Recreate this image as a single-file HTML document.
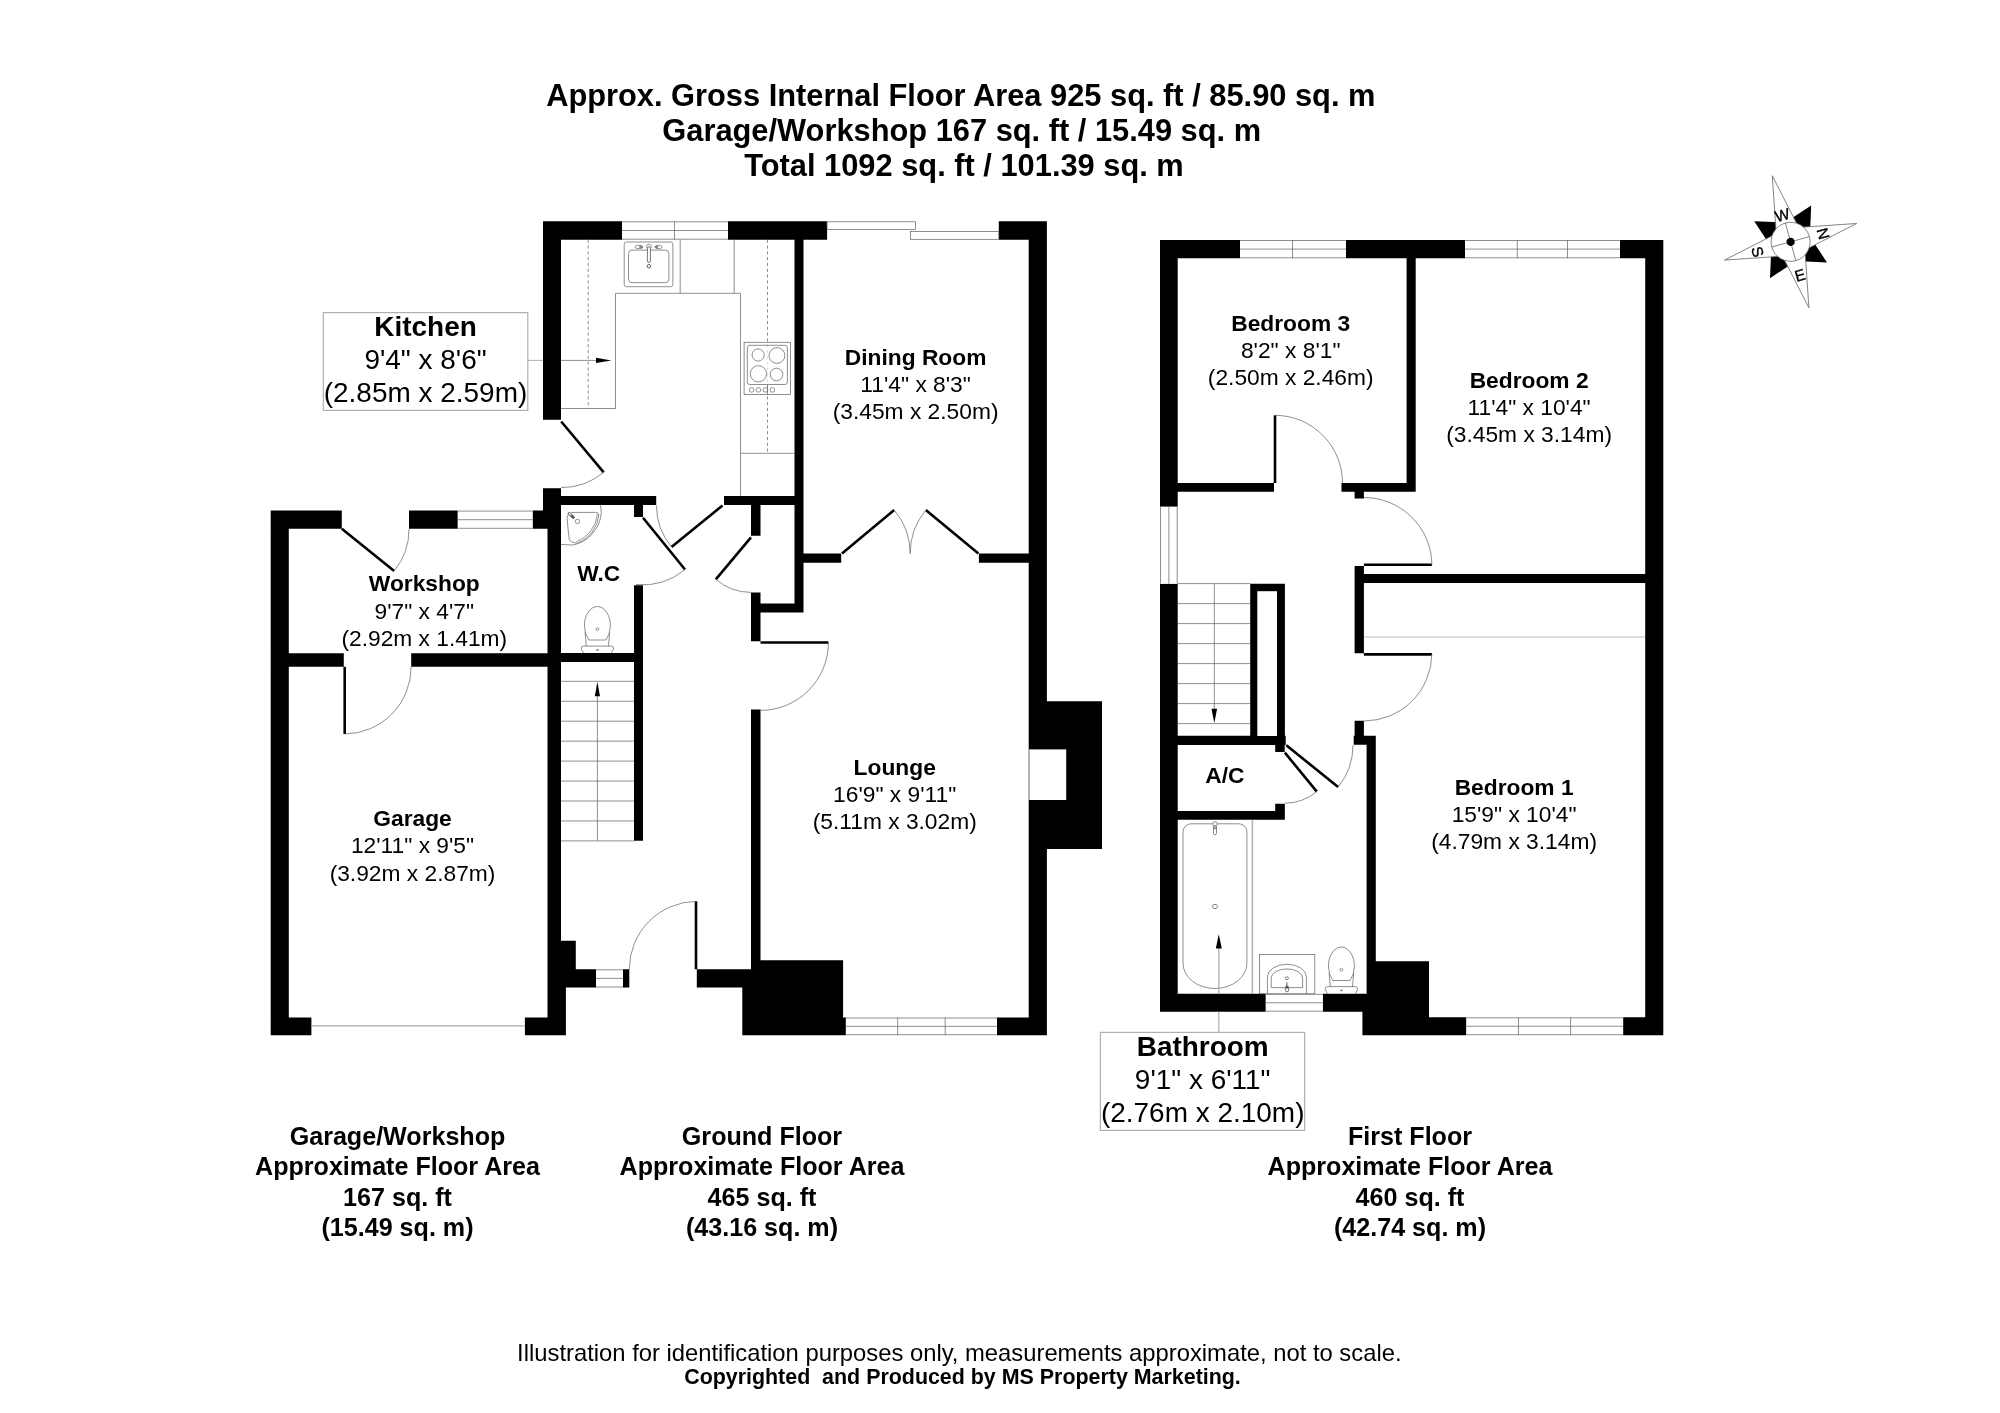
<!DOCTYPE html>
<html><head><meta charset="utf-8"><title>Floor plan</title>
<style>
html,body{margin:0;padding:0;background:#fff;}
body{width:2000px;height:1413px;overflow:hidden;}
svg{display:block;will-change:transform;}
svg text{font-family:"Liberation Sans",sans-serif;fill:#000;}
</style></head><body>
<svg width="2000" height="1413" viewBox="0 0 2000 1413">
<rect width="2000" height="1413" fill="#fff"/>
<path fill="#000" d="M543.00,221.30H561.00V419.70H543.00Z M543.00,488.20H561.00V511.00H543.00Z M547.50,505.00H561.00V1035.20H547.50Z M543.00,221.30H622.00V239.70H543.00Z M728.00,221.30H827.10V239.70H728.00Z M998.80,221.30H1046.90V239.70H998.80Z M1028.70,221.30H1046.90V1035.20H1028.70Z M794.50,239.70H803.50V612.60H794.50Z M561.00,496.00H656.20V505.00H561.00Z M724.00,496.00H794.50V505.00H724.00Z M634.00,505.00H643.00V517.00H634.00Z M634.00,585.20H643.00V840.80H634.00Z M561.00,653.00H643.00V662.00H561.00Z M751.00,505.00H760.50V535.75H751.00Z M751.00,592.40H760.50V641.30H751.00Z M751.00,603.40H803.50V612.60H751.00Z M751.00,709.40H760.50V1035.20H751.00Z M803.50,553.40H841.20V562.75H803.50Z M978.90,553.40H1028.70V562.75H978.90Z M1028.70,701.20H1102.00V849.00H1028.70Z M997.00,1017.50H1046.90V1035.20H997.00Z M760.50,960.20H843.10V1035.20H760.50Z M742.30,987.30H760.50V1035.20H742.30Z M843.00,1017.40H845.90V1035.20H843.00Z M561.00,969.30H596.00V987.50H561.00Z M622.90,969.30H629.30V987.50H622.90Z M696.80,969.30H751.20V987.50H696.80Z M561.00,940.75H575.80V969.30H561.00Z M547.50,987.50H565.90V1035.20H547.50Z M524.90,1017.40H565.90V1035.20H524.90Z M270.70,510.60H288.80V1035.30H270.70Z M270.70,510.60H341.80V528.80H270.70Z M409.00,510.60H457.80V528.80H409.00Z M532.60,510.60H547.60V528.80H532.60Z M288.80,653.30H343.80V666.80H288.80Z M411.20,653.30H547.60V666.80H411.20Z M270.70,1017.40H311.40V1035.30H270.70Z M1160.00,240.00H1177.70V506.80H1160.00Z M1160.00,583.70H1177.70V1011.70H1160.00Z M1160.00,240.00H1240.00V258.25H1160.00Z M1346.00,240.00H1465.00V258.25H1346.00Z M1620.00,240.00H1663.30V258.25H1620.00Z M1645.20,240.00H1663.30V1035.20H1645.20Z M1406.60,258.00H1415.70V491.80H1406.60Z M1177.70,483.00H1274.00V491.80H1177.70Z M1341.50,483.00H1415.70V491.80H1341.50Z M1354.60,491.80H1363.90V498.50H1354.60Z M1354.60,566.00H1363.90V653.30H1354.60Z M1363.90,573.90H1645.20V583.00H1363.90Z M1354.60,720.80H1363.90V736.00H1354.60Z M1353.70,735.70H1375.80V744.80H1353.70Z M1366.60,744.80H1375.80V1011.70H1366.60Z M1250.20,583.70H1284.90V736.00H1250.20Z M1177.70,735.80H1285.70V744.90H1177.70Z M1275.20,744.90H1284.70V752.00H1275.20Z M1177.70,811.00H1284.85V819.80H1177.70Z M1275.20,803.80H1284.85V819.80H1275.20Z M1160.00,993.85H1265.80V1011.70H1160.00Z M1322.75,993.85H1375.80V1011.70H1322.75Z M1375.80,961.20H1429.00V1035.20H1375.80Z M1362.40,1011.70H1375.80V1035.20H1362.40Z M1429.00,1017.30H1466.40V1035.20H1429.00Z M1623.10,1017.30H1663.30V1035.20H1623.10Z"/>
<rect x="1028.70" y="749.40" width="37.50" height="50.60" fill="#fff"/>
<line x1="1029.20" y1="749.40" x2="1029.20" y2="800.00" stroke="#6a6a6a" stroke-width="0.75" />
<rect x="1257.30" y="591.20" width="19.70" height="144.80" fill="#fff"/>
<rect x="622.00" y="221.30" width="106.00" height="18.40" fill="#fff"/>
<line x1="622.00" y1="221.80" x2="728.00" y2="221.80" stroke="#6a6a6a" stroke-width="0.75" />
<line x1="622.00" y1="230.50" x2="728.00" y2="230.50" stroke="#6a6a6a" stroke-width="0.75" />
<line x1="622.00" y1="239.20" x2="728.00" y2="239.20" stroke="#6a6a6a" stroke-width="0.75" />
<line x1="674.50" y1="221.30" x2="674.50" y2="239.70" stroke="#6a6a6a" stroke-width="0.75" />
<rect x="845.90" y="1017.50" width="151.10" height="17.70" fill="#fff"/>
<line x1="845.90" y1="1018.00" x2="997.00" y2="1018.00" stroke="#6a6a6a" stroke-width="0.75" />
<line x1="845.90" y1="1026.35" x2="997.00" y2="1026.35" stroke="#6a6a6a" stroke-width="0.75" />
<line x1="845.90" y1="1034.70" x2="997.00" y2="1034.70" stroke="#6a6a6a" stroke-width="0.75" />
<line x1="897.70" y1="1017.50" x2="897.70" y2="1035.20" stroke="#6a6a6a" stroke-width="0.75" />
<line x1="945.20" y1="1017.50" x2="945.20" y2="1035.20" stroke="#6a6a6a" stroke-width="0.75" />
<rect x="596.00" y="969.30" width="26.90" height="18.20" fill="#fff"/>
<line x1="596.00" y1="969.80" x2="622.90" y2="969.80" stroke="#6a6a6a" stroke-width="0.75" />
<line x1="596.00" y1="978.40" x2="622.90" y2="978.40" stroke="#6a6a6a" stroke-width="0.75" />
<line x1="596.00" y1="987.00" x2="622.90" y2="987.00" stroke="#6a6a6a" stroke-width="0.75" />
<rect x="457.80" y="510.60" width="74.80" height="18.20" fill="#fff"/>
<line x1="457.80" y1="511.10" x2="532.60" y2="511.10" stroke="#6a6a6a" stroke-width="0.75" />
<line x1="457.80" y1="519.70" x2="532.60" y2="519.70" stroke="#6a6a6a" stroke-width="0.75" />
<line x1="457.80" y1="528.30" x2="532.60" y2="528.30" stroke="#6a6a6a" stroke-width="0.75" />
<rect x="1240.00" y="240.00" width="106.00" height="18.25" fill="#fff"/>
<line x1="1240.00" y1="240.50" x2="1346.00" y2="240.50" stroke="#6a6a6a" stroke-width="0.75" />
<line x1="1240.00" y1="249.12" x2="1346.00" y2="249.12" stroke="#6a6a6a" stroke-width="0.75" />
<line x1="1240.00" y1="257.75" x2="1346.00" y2="257.75" stroke="#6a6a6a" stroke-width="0.75" />
<line x1="1292.50" y1="240.00" x2="1292.50" y2="258.25" stroke="#6a6a6a" stroke-width="0.75" />
<rect x="1465.00" y="240.00" width="155.00" height="18.25" fill="#fff"/>
<line x1="1465.00" y1="240.50" x2="1620.00" y2="240.50" stroke="#6a6a6a" stroke-width="0.75" />
<line x1="1465.00" y1="249.12" x2="1620.00" y2="249.12" stroke="#6a6a6a" stroke-width="0.75" />
<line x1="1465.00" y1="257.75" x2="1620.00" y2="257.75" stroke="#6a6a6a" stroke-width="0.75" />
<line x1="1517.30" y1="240.00" x2="1517.30" y2="258.25" stroke="#6a6a6a" stroke-width="0.75" />
<line x1="1567.50" y1="240.00" x2="1567.50" y2="258.25" stroke="#6a6a6a" stroke-width="0.75" />
<rect x="1466.40" y="1017.30" width="156.70" height="17.90" fill="#fff"/>
<line x1="1466.40" y1="1017.80" x2="1623.10" y2="1017.80" stroke="#6a6a6a" stroke-width="0.75" />
<line x1="1466.40" y1="1026.25" x2="1623.10" y2="1026.25" stroke="#6a6a6a" stroke-width="0.75" />
<line x1="1466.40" y1="1034.70" x2="1623.10" y2="1034.70" stroke="#6a6a6a" stroke-width="0.75" />
<line x1="1518.50" y1="1017.30" x2="1518.50" y2="1035.20" stroke="#6a6a6a" stroke-width="0.75" />
<line x1="1570.60" y1="1017.30" x2="1570.60" y2="1035.20" stroke="#6a6a6a" stroke-width="0.75" />
<rect x="1265.80" y="993.85" width="56.95" height="17.85" fill="#fff"/>
<line x1="1265.80" y1="994.35" x2="1322.75" y2="994.35" stroke="#6a6a6a" stroke-width="0.75" />
<line x1="1265.80" y1="1002.78" x2="1322.75" y2="1002.78" stroke="#6a6a6a" stroke-width="0.75" />
<line x1="1265.80" y1="1011.20" x2="1322.75" y2="1011.20" stroke="#6a6a6a" stroke-width="0.75" />
<rect x="1160.00" y="506.80" width="17.70" height="76.90" fill="#fff"/>
<line x1="1160.50" y1="506.80" x2="1160.50" y2="583.70" stroke="#6a6a6a" stroke-width="0.75" />
<line x1="1168.85" y1="506.80" x2="1168.85" y2="583.70" stroke="#6a6a6a" stroke-width="0.75" />
<line x1="1177.20" y1="506.80" x2="1177.20" y2="583.70" stroke="#6a6a6a" stroke-width="0.75" />
<rect x="827.1" y="221.8" width="88.4" height="7.8" fill="#fff" stroke="#6a6a6a" stroke-width="0.75"/>
<rect x="910.4" y="231.5" width="88.4" height="7.8" fill="#fff" stroke="#6a6a6a" stroke-width="0.75"/>
<line x1="311.40" y1="1025.90" x2="525.00" y2="1025.90" stroke="#aaa" stroke-width="1.2" />
<line x1="561.20" y1="421.50" x2="603.70" y2="472.30" stroke="#000" stroke-width="2.6" />
<path d="M603.70,472.30 A66.23,66.23 0 0 1 561.20,487.60" stroke="#6a6a6a" stroke-width="0.75" fill="none" />
<line x1="643.00" y1="517.70" x2="685.00" y2="569.50" stroke="#000" stroke-width="2.6" />
<path d="M685.00,569.50 A66.69,66.69 0 0 1 636.00,584.60" stroke="#6a6a6a" stroke-width="0.75" fill="none" />
<line x1="722.50" y1="505.50" x2="671.50" y2="547.00" stroke="#000" stroke-width="2.6" />
<path d="M671.50,547.00 A65.75,65.75 0 0 1 656.40,505.50" stroke="#6a6a6a" stroke-width="0.75" fill="none" />
<line x1="751.00" y1="537.30" x2="715.80" y2="579.30" stroke="#000" stroke-width="2.6" />
<path d="M715.80,579.30 A54.80,54.80 0 0 0 751.00,592.40" stroke="#6a6a6a" stroke-width="0.75" fill="none" />
<line x1="760.50" y1="642.50" x2="828.40" y2="642.50" stroke="#000" stroke-width="2.6" />
<path d="M828.40,642.50 A67.90,67.90 0 0 1 760.50,710.40" stroke="#6a6a6a" stroke-width="0.75" fill="none" />
<line x1="696.00" y1="969.30" x2="696.00" y2="901.30" stroke="#000" stroke-width="2.6" />
<path d="M696.00,901.30 A68.00,68.00 0 0 0 629.30,969.30" stroke="#6a6a6a" stroke-width="0.75" fill="none" />
<line x1="842.00" y1="553.60" x2="894.20" y2="510.00" stroke="#000" stroke-width="2.6" />
<path d="M894.20,510.00 A68.01,68.01 0 0 1 910.20,553.60" stroke="#6a6a6a" stroke-width="0.75" fill="none" />
<line x1="978.40" y1="553.60" x2="925.80" y2="510.00" stroke="#000" stroke-width="2.6" />
<path d="M925.80,510.00 A68.32,68.32 0 0 0 910.20,553.60" stroke="#6a6a6a" stroke-width="0.75" fill="none" />
<line x1="341.80" y1="528.80" x2="394.20" y2="571.00" stroke="#000" stroke-width="2.6" />
<path d="M394.20,571.00 A67.28,67.28 0 0 0 409.10,528.80" stroke="#6a6a6a" stroke-width="0.75" fill="none" />
<line x1="344.70" y1="666.80" x2="344.70" y2="734.00" stroke="#000" stroke-width="2.6" />
<path d="M344.70,734.00 A67.20,67.20 0 0 0 411.20,666.80" stroke="#6a6a6a" stroke-width="0.75" fill="none" />
<line x1="1275.00" y1="483.00" x2="1275.00" y2="415.30" stroke="#000" stroke-width="2.6" />
<path d="M1275.00,415.30 A67.70,67.70 0 0 1 1342.50,483.00" stroke="#6a6a6a" stroke-width="0.75" fill="none" />
<line x1="1363.90" y1="564.80" x2="1431.90" y2="564.80" stroke="#000" stroke-width="2.6" />
<path d="M1431.90,564.80 A68.00,68.00 0 0 0 1363.90,497.50" stroke="#6a6a6a" stroke-width="0.75" fill="none" />
<line x1="1363.90" y1="654.40" x2="1431.90" y2="654.40" stroke="#000" stroke-width="2.6" />
<path d="M1431.90,654.40 A68.00,68.00 0 0 1 1363.90,721.00" stroke="#6a6a6a" stroke-width="0.75" fill="none" />
<line x1="1284.85" y1="752.60" x2="1316.80" y2="791.60" stroke="#000" stroke-width="2.6" />
<path d="M1316.80,791.60 A50.42,50.42 0 0 1 1284.85,803.20" stroke="#6a6a6a" stroke-width="0.75" fill="none" />
<line x1="1286.30" y1="745.20" x2="1338.10" y2="787.10" stroke="#000" stroke-width="2.6" />
<path d="M1338.10,787.10 A66.62,66.62 0 0 0 1353.00,745.20" stroke="#6a6a6a" stroke-width="0.75" fill="none" />
<line x1="561.00" y1="681.30" x2="634.00" y2="681.30" stroke="#6a6a6a" stroke-width="0.75" />
<line x1="561.00" y1="701.25" x2="634.00" y2="701.25" stroke="#6a6a6a" stroke-width="0.75" />
<line x1="561.00" y1="721.20" x2="634.00" y2="721.20" stroke="#6a6a6a" stroke-width="0.75" />
<line x1="561.00" y1="741.15" x2="634.00" y2="741.15" stroke="#6a6a6a" stroke-width="0.75" />
<line x1="561.00" y1="761.10" x2="634.00" y2="761.10" stroke="#6a6a6a" stroke-width="0.75" />
<line x1="561.00" y1="781.05" x2="634.00" y2="781.05" stroke="#6a6a6a" stroke-width="0.75" />
<line x1="561.00" y1="801.00" x2="634.00" y2="801.00" stroke="#6a6a6a" stroke-width="0.75" />
<line x1="561.00" y1="820.95" x2="634.00" y2="820.95" stroke="#6a6a6a" stroke-width="0.75" />
<line x1="561.00" y1="840.90" x2="634.00" y2="840.90" stroke="#6a6a6a" stroke-width="0.75" />
<line x1="597.40" y1="840.80" x2="597.40" y2="696.00" stroke="#6a6a6a" stroke-width="0.75" />
<polygon points="597.4,681.8 594.8,696.2 600,696.2" fill="#000"/>
<line x1="1177.70" y1="583.60" x2="1250.20" y2="583.60" stroke="#6a6a6a" stroke-width="0.75" />
<line x1="1177.70" y1="603.60" x2="1250.20" y2="603.60" stroke="#6a6a6a" stroke-width="0.75" />
<line x1="1177.70" y1="623.60" x2="1250.20" y2="623.60" stroke="#6a6a6a" stroke-width="0.75" />
<line x1="1177.70" y1="643.60" x2="1250.20" y2="643.60" stroke="#6a6a6a" stroke-width="0.75" />
<line x1="1177.70" y1="663.60" x2="1250.20" y2="663.60" stroke="#6a6a6a" stroke-width="0.75" />
<line x1="1177.70" y1="683.60" x2="1250.20" y2="683.60" stroke="#6a6a6a" stroke-width="0.75" />
<line x1="1177.70" y1="703.60" x2="1250.20" y2="703.60" stroke="#6a6a6a" stroke-width="0.75" />
<line x1="1177.70" y1="723.60" x2="1250.20" y2="723.60" stroke="#6a6a6a" stroke-width="0.75" />
<line x1="1214.30" y1="583.60" x2="1214.30" y2="709.00" stroke="#6a6a6a" stroke-width="0.75" />
<polygon points="1214.3,723 1211.5,708.7 1217.1,708.7" fill="#000"/>
<path d="M561,408.5 H615.5 V293.3 H740.5 V496" stroke="#6a6a6a" stroke-width="0.75" fill="none" />
<line x1="680.20" y1="239.70" x2="680.20" y2="293.30" stroke="#6a6a6a" stroke-width="0.75" />
<line x1="734.20" y1="239.70" x2="734.20" y2="293.30" stroke="#6a6a6a" stroke-width="0.75" />
<line x1="740.50" y1="453.30" x2="794.50" y2="453.30" stroke="#6a6a6a" stroke-width="0.75" />
<line x1="588.20" y1="239.70" x2="588.20" y2="408.50" stroke="#6a6a6a" stroke-width="0.75" stroke-dasharray="3.2 2.6"/>
<line x1="767.50" y1="239.70" x2="767.50" y2="453.30" stroke="#6a6a6a" stroke-width="0.75" stroke-dasharray="3.2 2.6"/>
<rect x="624.2" y="242" width="48.7" height="44.7" rx="2.2" fill="#fff" stroke="#6a6a6a" stroke-width="0.75"/>
<rect x="628.5" y="250.1" width="40.4" height="32.5" rx="3.5" fill="none" stroke="#6a6a6a" stroke-width="0.75"/>
<circle cx="648.90" cy="246.70" r="2.50" stroke="#6a6a6a" stroke-width="0.7" fill="#fff"/>
<rect x="647.4" y="246.7" width="3" height="15.8" rx="1.5" fill="#fff" stroke="#555" stroke-width="0.8"/>
<circle cx="648.90" cy="266.20" r="1.70" stroke="#444" stroke-width="0.9" fill="none"/>
<ellipse cx="638.8" cy="247" rx="4" ry="1.7" fill="#fff" stroke="#6a6a6a" stroke-width="0.7"/>
<path d="M639.3,245.3 A4,1.7 0 0 1 639.3,248.7 Z" fill="#888"/>
<ellipse cx="658.6" cy="247" rx="3.6" ry="1.7" fill="#fff" stroke="#6a6a6a" stroke-width="0.7"/>
<path d="M658.1,245.3 A3.6,1.7 0 0 0 658.1,248.7 Z" fill="#888"/>
<rect x="744.1" y="342.3" width="46.4" height="52.1" fill="#fff" fill-opacity="0.72" stroke="#6a6a6a" stroke-width="0.75"/>
<line x1="767.50" y1="384.50" x2="767.50" y2="394.40" stroke="#6a6a6a" stroke-width="0.75" />
<rect x="747.3" y="345.3" width="40.1" height="39.2" rx="2.5" fill="none" stroke="#6a6a6a" stroke-width="0.75"/>
<circle cx="758.15" cy="355.00" r="6.10" stroke="#6a6a6a" stroke-width="0.75" fill="none"/>
<circle cx="776.95" cy="355.50" r="7.90" stroke="#6a6a6a" stroke-width="0.75" fill="none"/>
<circle cx="758.40" cy="373.80" r="8.15" stroke="#6a6a6a" stroke-width="0.75" fill="none"/>
<circle cx="776.50" cy="374.50" r="6.30" stroke="#6a6a6a" stroke-width="0.75" fill="none"/>
<circle cx="751.60" cy="389.90" r="2.30" stroke="#6a6a6a" stroke-width="0.75" fill="none"/>
<circle cx="758.40" cy="389.90" r="2.30" stroke="#6a6a6a" stroke-width="0.75" fill="none"/>
<circle cx="765.40" cy="389.90" r="2.30" stroke="#6a6a6a" stroke-width="0.75" fill="none"/>
<circle cx="772.40" cy="389.90" r="2.30" stroke="#6a6a6a" stroke-width="0.75" fill="none"/>
<line x1="527.80" y1="360.40" x2="543.00" y2="360.40" stroke="#b0b0b0" stroke-width="1" />
<line x1="561.00" y1="360.40" x2="598.00" y2="360.40" stroke="#6a6a6a" stroke-width="0.75" />
<polygon points="611.4,360.4 596,357.8 596,363" fill="#000"/>
<path d="M600.6,505 L601.3,513 A35.8,35.8 0 0 1 573,545 L561,544.5" stroke="#6a6a6a" stroke-width="0.75" fill="none" />
<path d="M573,512.4 H595.7 Q598.8,512.4 598.9,515 A33.5,33.5 0 0 1 577.6,543 Q571,542.8 569.3,539.5 Q568,530 567.1,518 Q567.3,513.5 573,512.4 Z" stroke="#6a6a6a" stroke-width="0.75" fill="none" />
<path d="M597.4,514.1 A32.5,32.5 0 0 1 576.5,541.5" stroke="#6a6a6a" stroke-width="0.7" fill="none" />
<circle cx="577.50" cy="521.40" r="2.20" stroke="#6a6a6a" stroke-width="0.75" fill="none"/>
<line x1="568.20" y1="512.80" x2="574.20" y2="518.30" stroke="#555" stroke-width="2.6" />
<line x1="568.80" y1="513.30" x2="571.00" y2="515.30" stroke="#fff" stroke-width="1.2" />
<path d="M588.90,640.00 A12.95,19.1 0 1 1 605.90,640.00 Z" stroke="#6a6a6a" stroke-width="0.75" fill="none" />
<path d="M585.10,632.40 L586.30,646.00 M609.70,632.40 L608.50,646.00" stroke="#6a6a6a" stroke-width="0.75" fill="none" />
<circle cx="597.40" cy="629.20" r="1.40" stroke="#6a6a6a" stroke-width="0.7" fill="none"/>
<path d="M583.60,653 L581.20,649.00 Q581.00,646.20 583.40,646.10 H611.40 Q613.80,646.20 613.60,649.00 L611.20,653" stroke="#6a6a6a" stroke-width="0.75" fill="none" />
<rect x="596.20" y="649.20" width="2.60" height="1.50" fill="#888"/>
<path d="M1332.90,980.50 A12.95,19.1 0 1 1 1349.90,980.50 Z" stroke="#6a6a6a" stroke-width="0.75" fill="none" />
<path d="M1329.10,972.90 L1330.30,986.50 M1353.70,972.90 L1352.50,986.50" stroke="#6a6a6a" stroke-width="0.75" fill="none" />
<circle cx="1341.40" cy="969.70" r="1.40" stroke="#6a6a6a" stroke-width="0.7" fill="none"/>
<path d="M1327.60,993.85 L1325.20,989.50 Q1325.00,986.70 1327.40,986.60 H1355.40 Q1357.80,986.70 1357.60,989.50 L1355.20,993.85" stroke="#6a6a6a" stroke-width="0.75" fill="none" />
<rect x="1340.20" y="989.70" width="2.60" height="1.50" fill="#888"/>
<path d="M1183,831.8 A8,8 0 0 1 1191,823.8 H1238.9 A8,8 0 0 1 1246.9,831.8 V963.2 A31.95,25.3 0 0 1 1183,963.2 Z" stroke="#6a6a6a" stroke-width="0.75" fill="none" />
<line x1="1252.40" y1="819.80" x2="1252.40" y2="993.80" stroke="#b4b4b4" stroke-width="1.6" />
<ellipse cx="1215" cy="906.5" rx="2.6" ry="2.1" fill="none" stroke="#6a6a6a" stroke-width="0.8"/>
<circle cx="1215.00" cy="824.00" r="2.30" stroke="#6a6a6a" stroke-width="0.8" fill="#fff"/>
<rect x="1213.5" y="825.6" width="3" height="9.2" rx="1.5" fill="#fff" stroke="#6a6a6a" stroke-width="0.8"/>
<circle cx="1215.00" cy="828.00" r="1.10" stroke="#555" stroke-width="0.7" fill="none"/>
<rect x="1259.5" y="954.4" width="55.3" height="39.4" fill="none" stroke="#6a6a6a" stroke-width="0.75"/>
<path d="M1267.4,993.8 V976.9 A19.5,12.65 0 0 1 1306.4,976.9 V993.8" stroke="#6a6a6a" stroke-width="0.75" fill="none" />
<path d="M1271.2,987.6 V978 A15.7,9.1 0 0 1 1302.6,978 V987.6 Z" stroke="#6a6a6a" stroke-width="0.75" fill="none" />
<circle cx="1286.90" cy="978.20" r="1.50" stroke="#6a6a6a" stroke-width="0.8" fill="none"/>
<line x1="1286.90" y1="982.40" x2="1286.90" y2="986.30" stroke="#555" stroke-width="1" />
<rect x="1285.4" y="986" width="3.2" height="5.8" rx="1.6" fill="#fff" stroke="#555" stroke-width="0.8"/>
<rect x="1285.80" y="986.30" width="2.40" height="2.10" fill="#444"/>
<line x1="1218.80" y1="948.00" x2="1218.80" y2="993.80" stroke="#b4b4b4" stroke-width="1.4" />
<line x1="1218.80" y1="1011.70" x2="1218.80" y2="1032.40" stroke="#b0b0b0" stroke-width="1.2" />
<polygon points="1218.8,934.3 1215.8,948.4 1221.8,948.4" fill="#000"/>
<line x1="1363.90" y1="637.00" x2="1645.20" y2="637.00" stroke="#bbb" stroke-width="1.2" />
<rect x="323.3" y="312.6" width="204.5" height="97.8" fill="none" stroke="#b0b0b0" stroke-width="1.2"/>
<rect x="1100.4" y="1032.4" width="204.3" height="98" fill="none" stroke="#b0b0b0" stroke-width="1.2"/>
<text transform="translate(425.50,335.90) scale(1.028,1)" font-size="27.2" font-weight="bold" text-anchor="middle" >Kitchen</text>
<text transform="translate(425.50,369.00) scale(1.028,1)" font-size="27.2" font-weight="normal" text-anchor="middle" >9'4&quot; x 8'6&quot;</text>
<text transform="translate(425.50,402.20) scale(1.028,1)" font-size="27.2" font-weight="normal" text-anchor="middle" >(2.85m x 2.59m)</text>
<text transform="translate(1202.70,1055.90) scale(1.028,1)" font-size="27.2" font-weight="bold" text-anchor="middle" >Bathroom</text>
<text transform="translate(1202.70,1089.00) scale(1.028,1)" font-size="27.2" font-weight="normal" text-anchor="middle" >9'1&quot; x 6'11&quot;</text>
<text transform="translate(1202.70,1122.20) scale(1.028,1)" font-size="27.2" font-weight="normal" text-anchor="middle" >(2.76m x 2.10m)</text>
<text transform="translate(424.30,591.40) scale(1.024,1)" font-size="22.25" font-weight="bold" text-anchor="middle" >Workshop</text>
<text transform="translate(424.30,618.60) scale(1.024,1)" font-size="22.25" font-weight="normal" text-anchor="middle" >9'7&quot; x 4'7&quot;</text>
<text transform="translate(424.30,645.80) scale(1.024,1)" font-size="22.25" font-weight="normal" text-anchor="middle" >(2.92m x 1.41m)</text>
<text transform="translate(412.50,826.10) scale(1.024,1)" font-size="22.25" font-weight="bold" text-anchor="middle" >Garage</text>
<text transform="translate(412.50,853.30) scale(1.024,1)" font-size="22.25" font-weight="normal" text-anchor="middle" >12'11&quot; x 9'5&quot;</text>
<text transform="translate(412.50,880.50) scale(1.024,1)" font-size="22.25" font-weight="normal" text-anchor="middle" >(3.92m x 2.87m)</text>
<text transform="translate(915.60,364.90) scale(1.024,1)" font-size="22.25" font-weight="bold" text-anchor="middle" >Dining Room</text>
<text transform="translate(915.60,392.10) scale(1.024,1)" font-size="22.25" font-weight="normal" text-anchor="middle" >11'4&quot; x 8'3&quot;</text>
<text transform="translate(915.60,419.30) scale(1.024,1)" font-size="22.25" font-weight="normal" text-anchor="middle" >(3.45m x 2.50m)</text>
<text transform="translate(894.70,774.70) scale(1.024,1)" font-size="22.25" font-weight="bold" text-anchor="middle" >Lounge</text>
<text transform="translate(894.70,801.90) scale(1.024,1)" font-size="22.25" font-weight="normal" text-anchor="middle" >16'9&quot; x 9'11&quot;</text>
<text transform="translate(894.70,829.10) scale(1.024,1)" font-size="22.25" font-weight="normal" text-anchor="middle" >(5.11m x 3.02m)</text>
<text transform="translate(1290.70,330.50) scale(1.024,1)" font-size="22.25" font-weight="bold" text-anchor="middle" >Bedroom 3</text>
<text transform="translate(1290.70,357.70) scale(1.024,1)" font-size="22.25" font-weight="normal" text-anchor="middle" >8'2&quot; x 8'1&quot;</text>
<text transform="translate(1290.70,384.90) scale(1.024,1)" font-size="22.25" font-weight="normal" text-anchor="middle" >(2.50m x 2.46m)</text>
<text transform="translate(1529.10,388.00) scale(1.024,1)" font-size="22.25" font-weight="bold" text-anchor="middle" >Bedroom 2</text>
<text transform="translate(1529.10,415.20) scale(1.024,1)" font-size="22.25" font-weight="normal" text-anchor="middle" >11'4&quot; x 10'4&quot;</text>
<text transform="translate(1529.10,442.40) scale(1.024,1)" font-size="22.25" font-weight="normal" text-anchor="middle" >(3.45m x 3.14m)</text>
<text transform="translate(1514.10,795.00) scale(1.024,1)" font-size="22.25" font-weight="bold" text-anchor="middle" >Bedroom 1</text>
<text transform="translate(1514.10,822.20) scale(1.024,1)" font-size="22.25" font-weight="normal" text-anchor="middle" >15'9&quot; x 10'4&quot;</text>
<text transform="translate(1514.10,849.40) scale(1.024,1)" font-size="22.25" font-weight="normal" text-anchor="middle" >(4.79m x 3.14m)</text>
<text transform="translate(598.80,581.30) scale(1.024,1)" font-size="22.25" font-weight="bold" text-anchor="middle" >W.C</text>
<text transform="translate(1224.80,782.70) scale(1.024,1)" font-size="22.25" font-weight="bold" text-anchor="middle" >A/C</text>
<text x="397.50" y="1144.80" font-size="25.1" font-weight="bold" text-anchor="middle" >Garage/Workshop</text>
<text x="397.50" y="1175.20" font-size="25.1" font-weight="bold" text-anchor="middle" >Approximate Floor Area</text>
<text x="397.50" y="1205.90" font-size="25.1" font-weight="bold" text-anchor="middle" >167 sq. ft</text>
<text x="397.50" y="1235.80" font-size="25.1" font-weight="bold" text-anchor="middle" >(15.49 sq. m)</text>
<text x="762.00" y="1144.80" font-size="25.1" font-weight="bold" text-anchor="middle" >Ground Floor</text>
<text x="762.00" y="1175.20" font-size="25.1" font-weight="bold" text-anchor="middle" >Approximate Floor Area</text>
<text x="762.00" y="1205.90" font-size="25.1" font-weight="bold" text-anchor="middle" >465 sq. ft</text>
<text x="762.00" y="1235.80" font-size="25.1" font-weight="bold" text-anchor="middle" >(43.16 sq. m)</text>
<text x="1410.00" y="1144.80" font-size="25.1" font-weight="bold" text-anchor="middle" >First Floor</text>
<text x="1410.00" y="1175.20" font-size="25.1" font-weight="bold" text-anchor="middle" >Approximate Floor Area</text>
<text x="1410.00" y="1205.90" font-size="25.1" font-weight="bold" text-anchor="middle" >460 sq. ft</text>
<text x="1410.00" y="1235.80" font-size="25.1" font-weight="bold" text-anchor="middle" >(42.74 sq. m)</text>
<text x="960.80" y="106.40" font-size="30.82" font-weight="bold" text-anchor="middle" >Approx. Gross Internal Floor Area 925 sq. ft / 85.90 sq. m</text>
<text x="961.70" y="141.00" font-size="30.82" font-weight="bold" text-anchor="middle" >Garage/Workshop 167 sq. ft / 15.49 sq. m</text>
<text x="964.00" y="175.70" font-size="30.82" font-weight="bold" text-anchor="middle" >Total 1092 sq. ft / 101.39 sq. m</text>
<text x="959.30" y="1361.40" font-size="23.81" font-weight="normal" text-anchor="middle" >Illustration for identification purposes only, measurements approximate, not to scale.</text>
<text x="962.50" y="1384.40" font-size="21.41" font-weight="bold" text-anchor="middle" style="white-space:pre">Copyrighted  and Produced by MS Property Marketing.</text>
<g transform="translate(1790.6,241.8) rotate(74.5)">
<polygon points="29.56,-29.56 20.00,-0.00 29.56,29.56 0.00,20.00 -29.56,29.56 -20.00,0.00 -29.56,-29.56 -0.00,-20.00" fill="#000"/>
<polygon points="0.00,-68.50 11.67,-11.67 68.50,-0.00 11.67,11.67 0.00,68.50 -11.67,11.67 -68.50,0.00 -11.67,-11.67" fill="#fff" stroke="#6a6a6a" stroke-width="0.75"/>
<circle r="19.5" fill="#fff" stroke="#6a6a6a" stroke-width="0.75"/>
<line x1="0" y1="-19.5" x2="0" y2="19.5" stroke="#6a6a6a" stroke-width="0.75"/><line x1="-19.5" y1="0" x2="19.5" y2="0" stroke="#6a6a6a" stroke-width="0.75"/>
<circle r="4" fill="#000"/>
</g>
<text transform="translate(1782.4,214.9) rotate(-15.5)" font-size="15.5" text-anchor="middle" y="5.5" stroke="#000" stroke-width="0.35">W</text>
<text transform="translate(1823.3,233.6) rotate(74.5)" font-size="15.5" text-anchor="middle" y="5.5" stroke="#000" stroke-width="0.35">N</text>
<text transform="translate(1757.8,251.7) rotate(74.5)" font-size="15.5" text-anchor="middle" y="5.5" stroke="#000" stroke-width="0.35">S</text>
<text transform="translate(1800,275) rotate(-15.5)" font-size="15.5" text-anchor="middle" y="5.5" stroke="#000" stroke-width="0.35">E</text>
</svg>
</body></html>
